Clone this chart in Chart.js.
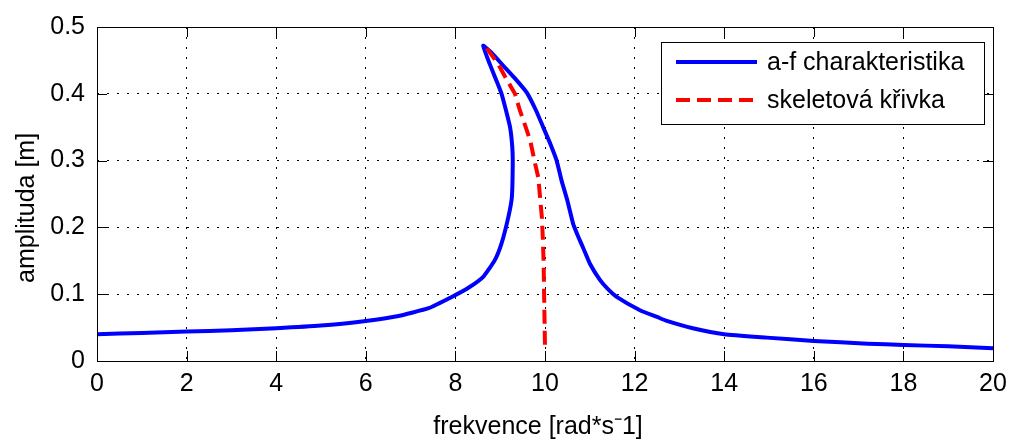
<!DOCTYPE html>
<html>
<head>
  <title>a-f charakteristika</title>
  <style>
    body { margin: 0; background: #fff; }
    #wrap { width: 1009px; height: 440px; }
  </style>
</head>
<body>
<div id="wrap"><canvas id="myCanvas" width="1009" height="440"></canvas></div>
<script src="https://cdn.jsdelivr.net/npm/chart.js@4/dist/chart.umd.min.js"></script>
<script>
  // ---------------- data ----------------
  var afFreq = [0, 1, 2, 3, 4, 5, 6, 6.7, 7.4, 7.95, 8.3, 8.62, 8.88, 9.03, 9.18, 9.26, 9.28, 9.27,
                9.22, 9.13, 9.03, 8.92, 8.77, 8.62,
                8.8, 9.07, 9.33, 9.59, 9.8, 9.96, 10.12, 10.26, 10.37, 10.5, 10.63, 10.75, 10.86,
                11.0, 11.23, 11.4, 11.6, 12.12, 12.5, 12.72, 13.3, 14.0, 14.95, 16.0,
                17.2, 18.0, 19.0, 20];
  var afAmp = [0.040, 0.042, 0.044, 0.046, 0.049, 0.053, 0.060, 0.067, 0.079, 0.097, 0.110, 0.126,
               0.151, 0.176, 0.215, 0.245, 0.295, 0.320,
               0.350, 0.375, 0.400, 0.419, 0.444, 0.472,
               0.462, 0.442, 0.423, 0.402, 0.375, 0.350, 0.325, 0.300, 0.270, 0.240, 0.205, 0.185,
               0.168, 0.146, 0.121, 0.108, 0.096, 0.076, 0.066, 0.060, 0.049, 0.040, 0.035,
               0.030, 0.026, 0.024, 0.022, 0.019];

  var skelFreq = [8.7, 8.95, 9.14, 9.33, 9.44, 9.56, 9.67, 9.78, 9.85, 9.89, 9.93, 9.95, 9.97, 9.98, 9.99, 10.0];
  var skelAmp = [0.468, 0.445, 0.422, 0.400, 0.375, 0.352, 0.330, 0.295, 0.275, 0.245, 0.215, 0.186,
                 0.146, 0.100, 0.060, 0.020];

  var xTicks = [0, 2, 4, 6, 8, 10, 12, 14, 16, 18, 20];
  var yTicks = [0, 0.1, 0.2, 0.3, 0.4, 0.5];

  var seriesNames = ['a-f charakteristika', 'skeletová křivka'];
  // ------------------------------------------------------------

  function toPoints(xs, ys) {
    var pts = [];
    for (var i = 0; i < xs.length; i++) {
      pts.push({x: xs[i], y: ys[i]});
    }
    return pts;
  }

  var FONT = '"Liberation Sans", Arial, sans-serif';
  var NB = '\u00a0';

  // box around the plot + inward tick marks, matlab style
  var framePlugin = {
    id: 'frame',
    afterDatasetsDraw: function(chart) {
      var ctx = chart.ctx, a = chart.chartArea;
      var sx = chart.scales.x, sy = chart.scales.y;
      var tl = 10;
      ctx.save();
      ctx.strokeStyle = '#000';
      ctx.lineWidth = 1;
      ctx.setLineDash([]);
      ctx.strokeRect(Math.round(a.left) + 0.5, Math.round(a.top) + 0.5,
                     Math.round(a.right - a.left), Math.round(a.bottom - a.top));
      ctx.beginPath();
      xTicks.forEach(function(v) {
        var px = Math.round(sx.getPixelForValue(v)) + 0.5;
        ctx.moveTo(px, a.bottom); ctx.lineTo(px, a.bottom - tl);
        ctx.moveTo(px, a.top); ctx.lineTo(px, a.top + tl);
      });
      yTicks.forEach(function(v) {
        var py = Math.round(sy.getPixelForValue(v)) + 0.5;
        ctx.moveTo(a.left, py); ctx.lineTo(a.left + tl, py);
        ctx.moveTo(a.right, py); ctx.lineTo(a.right - tl, py);
      });
      ctx.stroke();
      ctx.restore();
    },
    afterDraw: function(chart) {
      // legend box in the top right corner of the plot
      var ctx = chart.ctx, a = chart.chartArea;
      var bw = 323, bh = 82;
      var bx = Math.round(a.right - 9 - bw), by = Math.round(a.top + 15);
      ctx.save();
      ctx.fillStyle = '#fff';
      ctx.fillRect(bx, by, bw, bh);
      ctx.strokeStyle = '#000';
      ctx.lineWidth = 1;
      ctx.strokeRect(bx + 0.5, by + 0.5, bw, bh);
      ctx.font = '25px ' + FONT;
      ctx.textBaseline = 'middle';
      ctx.fillStyle = '#000';
      chart.data.datasets.forEach(function(ds, i) {
        var ly = by + 20 + i * 38;
        ctx.beginPath();
        ctx.strokeStyle = ds.borderColor;
        ctx.lineWidth = ds.borderWidth;
        ctx.setLineDash(ds.borderDash || []);
        ctx.moveTo(bx + 15, ly);
        ctx.lineTo(bx + 96, ly);
        ctx.stroke();
        ctx.setLineDash([]);
        ctx.fillText(ds.label, bx + 106, ly + 1);
      });
      ctx.restore();
    }
  };

  var ctx = document.getElementById('myCanvas');
  var chart = new Chart(ctx, {
    type: 'scatter',
    data: {
      datasets: [{
        label: seriesNames[0],
        data: toPoints(afFreq, afAmp),
        showLine: true,
        borderColor: '#0000ff',
        borderWidth: 4,
        pointRadius: 0,
        tension: 0.15,
        order: 1
      }, {
        label: seriesNames[1],
        data: toPoints(skelFreq, skelAmp),
        showLine: true,
        borderColor: '#ff0000',
        borderWidth: 4,
        borderDash: [14, 7],
        pointRadius: 0,
        tension: 0,
        order: 0
      }]
    },
    options: {
      responsive: false,
      animation: false,
      layout: { padding: { left: 0, right: 16, top: 26, bottom: 0 } },
      plugins: {
        legend: { display: false },
        tooltip: { enabled: false }
      },
      scales: {
        x: {
          type: 'linear',
          min: 0,
          max: 20,
          afterBuildTicks: function(s) { s.ticks = xTicks.map(function(v) { return {value: v}; }); },
          afterFit: function(s) { s.height = 79; s.paddingLeft = 0; s.paddingRight = 0; },
          grid: { color: '#000', lineWidth: 1, drawTicks: false },
          border: { display: false, dash: [2, 8] },
          ticks: { color: '#000', padding: 8, font: { family: FONT, size: 25 }, maxRotation: 0 },
          title: {
            display: true,
            text: 'frekvence [rad*s\u207B1]' + NB + NB,
            color: '#000',
            font: { family: FONT, size: 25, lineHeight: 1 },
            padding: 0
          }
        },
        y: {
          type: 'linear',
          min: 0,
          max: 0.5,
          afterBuildTicks: function(s) { s.ticks = yTicks.map(function(v) { return {value: v}; }); },
          afterFit: function(s) { s.width = 97; },
          grid: { color: '#000', lineWidth: 1, drawTicks: false },
          border: { display: false, dash: [2, 8] },
          ticks: {
            color: '#000', padding: 12, font: { family: FONT, size: 25 },
            callback: function(v) { return v === 0 ? '0' : v.toFixed(1); }
          },
          title: {
            display: true,
            text: 'amplituda [m]' + NB + NB + NB + NB,
            color: '#000',
            font: { family: FONT, size: 25, lineHeight: 1 },
            padding: { top: 15, bottom: 0 }
          }
        }
      }
    },
    plugins: [framePlugin]
  });
</script>
</body>
</html>
